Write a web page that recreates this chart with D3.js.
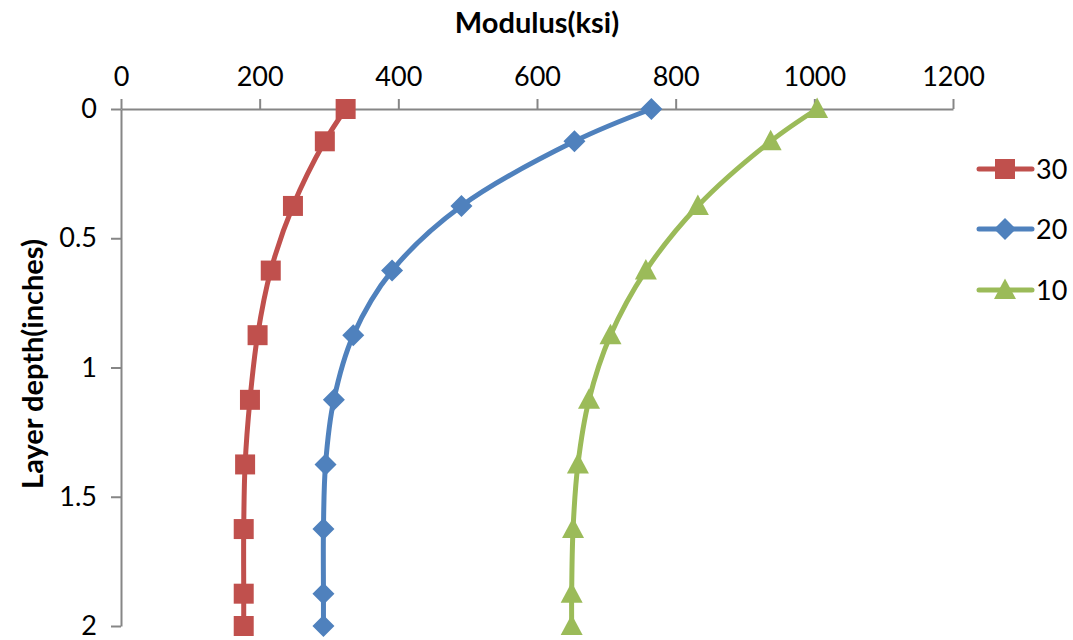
<!DOCTYPE html>
<html>
<head>
<meta charset="utf-8">
<script src="https://cdn.jsdelivr.net/npm/d3@7"></script>
<style>
  html, body { margin: 0; padding: 0; background: #fff; }
  svg text { font-family: Lato, "Open Sans", sans-serif; fill: #000; }
</style>
</head>
<body>
<svg id="chart" width="1073" height="640"></svg>
<script>
// Layer depth (inches) at which modulus was computed
const depths = [0, 0.125, 0.375, 0.625, 0.875, 1.125, 1.375, 1.625, 1.875, 2];

// Modulus (ksi) per temperature series
const modulus30 = [324, 294, 248, 216, 197, 186, 179, 177, 177, 177];
const modulus20 = [765, 654, 491, 391, 335, 307, 295, 292, 292, 292];
const modulus10 = [1004, 937, 832, 757, 706, 675, 659, 652, 650, 650];

const seriesNames = ["30", "20", "10"];
const xTicks = [0, 200, 400, 600, 800, 1000, 1200];
const yTicks = [0, 0.5, 1, 1.5, 2];
const yTickLabels = ["0", "0.5", "1", "1.5", "2"];

const svg = d3.select("#chart");
const plot = { left: 121, right: 953, top: 109, bottom: 626 };

const x = d3.scaleLinear().domain([0, 1200]).range([plot.left, plot.right]);
const y = d3.scaleLinear().domain([0, 2]).range([plot.top, plot.bottom]);

const axisColor = "#868686";

// Top x axis
const xAxis = svg.append("g")
  .attr("transform", `translate(0,${plot.top})`)
  .call(d3.axisTop(x).tickValues(xTicks).tickFormat(d3.format("d"))
        .tickSize(10).tickSizeOuter(0).tickPadding(13));
// Left y axis
const yAxis = svg.append("g")
  .attr("transform", `translate(${plot.left},0)`)
  .call(d3.axisLeft(y).tickValues(yTicks).tickFormat((d, i) => yTickLabels[i])
        .tickSize(10).tickSizeOuter(0).tickPadding(14));

[xAxis, yAxis].forEach(g => {
  g.select(".domain").attr("stroke", axisColor).attr("stroke-width", 2);
  g.selectAll(".tick line").attr("stroke", axisColor).attr("stroke-width", 2);
  g.selectAll(".tick text")
    .attr("font-size", 27)
    .attr("font-family", "Lato, sans-serif")
    .attr("fill", "#000");
});
yAxis.selectAll(".tick text").attr("dy", "0.32em");

// Axis titles
svg.append("text")
  .attr("x", 537).attr("y", 33)
  .attr("text-anchor", "middle")
  .style("font-size", "29px").style("font-weight", "bold")
  .text("Modulus(ksi)");

svg.append("text")
  .attr("transform", "translate(43,364) rotate(-90)")
  .attr("text-anchor", "middle")
  .style("font-size", "29px").style("font-weight", "bold")
  .text("Layer depth(inches)");

const series = [
  { name: seriesNames[0], values: modulus30, color: "#C0504D", shape: "square" },
  { name: seriesNames[1], values: modulus20, color: "#4F81BD", shape: "diamond" },
  { name: seriesNames[2], values: modulus10, color: "#9BBB59", shape: "triangle" }
];

function markerPath(shape) {
  if (shape === "square") return "M-10,-10H10V10H-10Z";
  if (shape === "diamond") return "M0,-11L11,0L0,11L-11,0Z";
  return "M0,-11.5L11,9H-11Z";
}

const line = d3.line()
  .x(d => x(d.v))
  .y(d => y(d.d))
  .curve(d3.curveCatmullRom.alpha(0.5));

// Series lines and markers
series.forEach(s => {
  const pts = s.values.map((v, i) => ({ v, d: depths[i] }));
  const g = svg.append("g");
  g.append("path")
    .datum(pts)
    .attr("d", line)
    .attr("fill", "none")
    .attr("stroke", s.color)
    .attr("stroke-width", 5)
    .attr("stroke-linejoin", "round")
    .attr("stroke-linecap", "round");
  g.selectAll("path.mk")
    .data(pts)
    .join("path")
    .attr("class", "mk")
    .attr("transform", d => `translate(${x(d.v)},${y(d.d)})`)
    .attr("d", markerPath(s.shape))
    .attr("fill", s.color);
});

// Legend
const legendY = [169, 229, 290];
series.forEach((s, i) => {
  const g = svg.append("g").attr("transform", `translate(0,${legendY[i]})`);
  g.append("line")
    .attr("x1", 979).attr("x2", 1032)
    .attr("stroke", s.color).attr("stroke-width", 5)
    .attr("stroke-linecap", "round");
  g.append("path")
    .attr("transform", "translate(1005,0)")
    .attr("d", markerPath(s.shape))
    .attr("fill", s.color);
  g.append("text")
    .attr("x", 1036).attr("y", 0).attr("dy", "0.36em")
    .style("font-size", "27px")
    .text(s.name);
});
</script>
</body>
</html>
